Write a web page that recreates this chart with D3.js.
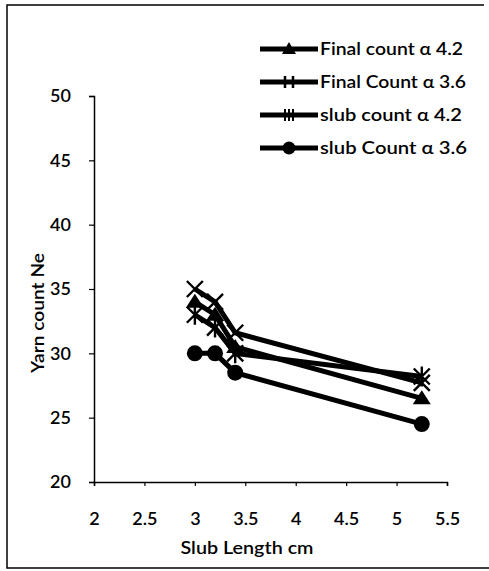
<!DOCTYPE html>
<html><head><meta charset="utf-8">
<script src="https://cdn.jsdelivr.net/npm/d3@7"></script>
<style>body{margin:0;background:#fff}svg{display:block}text{font-family:Lato,"Open Sans",sans-serif;fill:#000}</style>
</head><body><div id="c"></div>
<script>
const slubLength = [3.0, 3.2, 3.4, 5.25];
const finalCount42 = [34, 33, 30.5, 26.5];
const finalCount36 = [35, 34, 31.6, 27.7];
const slubCount42 = [33, 32, 30, 28.2];
const slubCount36 = [30, 30, 28.5, 24.5];
const seriesNames = ["Final count \u03b1 4.2", "Final Count \u03b1 3.6", "slub count \u03b1 4.2", "slub Count  \u03b1 3.6"];
const markerTypes = ["triangle", "xbar", "asterisk", "circle"];
const xTicks = [2, 2.5, 3, 3.5, 4, 4.5, 5, 5.5];
const yTicks = [20, 25, 30, 35, 40, 45, 50];

const W = 489, H = 571;
const svg = d3.select("#c").append("svg").attr("width", W).attr("height", H);
// frame: top, left, bottom (right edge cropped off in the scan)
svg.append("path").attr("d", "M484,5H7V568H489")
  .attr("fill", "none").attr("stroke", "#000").attr("stroke-width", 1.5);

const x = d3.scaleLinear().domain([2, 5.5]).range([94, 447]);
const y = d3.scaleLinear().domain([20, 50]).range([482, 96]);

const gx = svg.append("g").attr("transform", "translate(0,482)")
  .call(d3.axisBottom(x).tickValues(xTicks).tickSize(4).tickFormat(d3.format("")));
gx.select(".domain").attr("stroke-width", 1.5);
gx.selectAll(".tick line").attr("stroke-width", 1.2);
gx.selectAll(".tick text").attr("font-size", 18).attr("dy", 0).attr("y", 43).attr("font-weight", 600);

const gy = svg.append("g").attr("transform", "translate(94,0)")
  .call(d3.axisLeft(y).tickValues(yTicks).tickSize(5).tickFormat(d3.format("")));
gy.select(".domain").attr("stroke-width", 1.5);
gy.selectAll(".tick line").attr("stroke-width", 1.2);
gy.selectAll(".tick text").attr("font-size", 18).attr("x", -23).attr("font-weight", 600);

svg.append("text").attr("x", 247).attr("y", 554).attr("text-anchor", "middle")
  .attr("font-size", 17).attr("font-weight", 600)
  .attr("textLength", 133).attr("lengthAdjust", "spacingAndGlyphs").text("Slub Length cm");
svg.append("text").attr("transform", "translate(44,313) rotate(-90)").attr("text-anchor", "middle")
  .attr("font-size", 17).attr("font-weight", 600)
  .attr("textLength", 120).attr("lengthAdjust", "spacingAndGlyphs").text("Yarn count Ne");

const series = [finalCount42, finalCount36, slubCount42, slubCount36];
const line = d3.line().x((d, i) => x(slubLength[i])).y(d => y(d));

function marker(g, type, cx, cy) {
  const m = g.append("g").attr("transform", `translate(${cx},${cy})`);
  if (type === "circle") m.append("circle").attr("r", 8).attr("fill", "#000");
  else if (type === "triangle") m.append("path").attr("d", "M0,-8L9,6L-9,6Z").attr("fill", "#000");
  else if (type === "xbar") {
    m.append("path").attr("d", "M-8,-8L8,8M-8,8L8,-8").attr("stroke", "#000").attr("stroke-width", 2.4);
  } else {
    m.append("path").attr("d", "M-8,-8L8,8M-8,8L8,-8M0,-10V10").attr("stroke", "#000").attr("stroke-width", 2.4);
  }
}

series.forEach((s, k) => {
  const g = svg.append("g");
  g.append("path").attr("d", line(s)).attr("fill", "none").attr("stroke", "#000").attr("stroke-width", 5);
  s.forEach((v, i) => marker(g, markerTypes[k], x(slubLength[i]), y(v)));
});

// legend
const legY = [49, 82, 115, 148];
const legW = [143, 146, 142, 147];
seriesNames.forEach((n, k) => {
  const g = svg.append("g");
  g.append("line").attr("x1", 260).attr("x2", 318).attr("y1", legY[k]).attr("y2", legY[k])
    .attr("stroke", "#000").attr("stroke-width", 5);
  const m = g.append("g").attr("transform", `translate(289,${legY[k]})`);
  if (markerTypes[k] === "circle") m.append("circle").attr("r", 6.5).attr("fill", "#000");
  else if (markerTypes[k] === "triangle") m.append("path").attr("d", "M0,-7L7,5L-7,5Z").attr("fill", "#000");
  else if (markerTypes[k] === "xbar") m.append("path").attr("d", "M-4,-6V6M4,-6V6").attr("stroke", "#000").attr("stroke-width", 2.5);
  else m.append("path").attr("d", "M-4,-6V6M0,-6V6M4,-6V6").attr("stroke", "#000").attr("stroke-width", 2);
  g.append("text").attr("x", 320).attr("y", legY[k]).attr("dy", "0.35em")
    .attr("font-size", 17).attr("font-weight", 600)
    .attr("textLength", legW[k]).attr("lengthAdjust", "spacingAndGlyphs").text(n);
});
</script></body></html>
